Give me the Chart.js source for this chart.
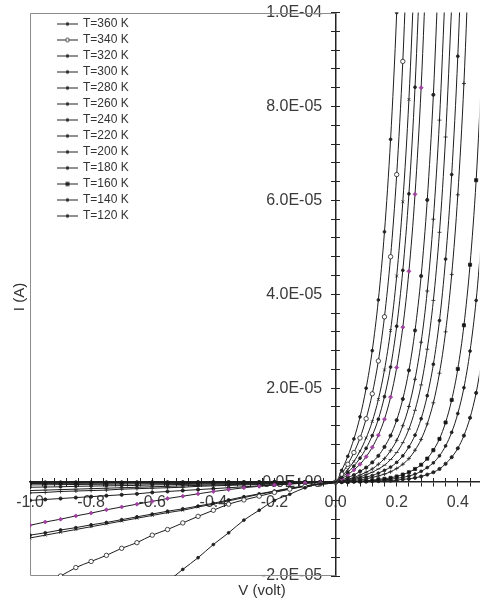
<!DOCTYPE html>
<html>
<head>
<meta charset="utf-8">
<script src="https://cdn.jsdelivr.net/npm/chart.js@4.4.1/dist/chart.umd.min.js"></script>
<style>
  html, body { margin: 0; padding: 0; background: #fff; }
  canvas { display: block; }
</style>
</head>
<body>
<canvas id="ivChart" width="484" height="603"></canvas>
<script>
// temperatures, top to bottom in the legend
const temps = ['T=360 K', 'T=340 K', 'T=320 K', 'T=300 K', 'T=280 K', 'T=260 K', 'T=240 K',
               'T=220 K', 'T=200 K', 'T=180 K', 'T=160 K', 'T=140 K', 'T=120 K'];

// voltage steps (V): reverse side then forward side
const vRev = [-1.0, -0.95, -0.9, -0.85, -0.8, -0.75, -0.7, -0.65, -0.6, -0.55,
              -0.5, -0.45, -0.4, -0.35, -0.3, -0.25, -0.2, -0.15, -0.1, -0.05];
const vFwd = [0, 0.02, 0.04, 0.06, 0.08, 0.1, 0.12, 0.14, 0.16, 0.18, 0.2, 0.22, 0.24,
              0.26, 0.28, 0.3, 0.32, 0.34, 0.36, 0.38, 0.4, 0.42, 0.44, 0.46, 0.48];

// current in microampere, same order as vRev then vFwd
const I360 = [null, null, null, null, null, null, null, null, -23.8, -21.2,
              -18.6, -16.1, -13.3, -10.8, -8.1, -6.0, -3.9, -2.6, -1.2, -0.4,
              0, 2.5, 5.5, 9.2, 13.9, 20.0, 28.0, 38.8, 53.3, 73.0, 100, 137];
const I340 = [-22.6, -21.3, -20.0, -18.2, -16.9, -15.6, -14.1, -12.9, -11.3, -10.1,
              -8.7, -7.3, -6.0, -4.7, -3.8, -3.0, -2.2, -1.5, -0.9, -0.4,
              0, 1.7, 3.8, 6.3, 9.4, 13.5, 18.8, 25.8, 35.2, 48.0, 65.5, 89.6, 122.8];
const I320 = [-11.9, -11.3, -10.7, -10.1, -9.5, -8.9, -8.3, -7.7, -7.1, -6.5,
              -6.0, -5.3, -4.7, -4.0, -3.3, -2.6, -2.0, -1.4, -0.9, -0.4,
              0, 1.2, 2.7, 4.4, 6.6, 9.4, 12.9, 17.6, 23.9, 32.3, 43.9, 59.7, 81.5, 111.7];
const I300 = [-11.3, -10.8, -10.2, -9.7, -9.1, -8.6, -8.0, -7.4, -6.8, -6.2,
              -5.7, -5.1, -4.5, -3.8, -3.1, -2.5, -1.9, -1.3, -0.8, -0.4,
              0, 1.0, 2.1, 3.4, 5.1, 7.2, 9.9, 13.4, 18.2, 24.5, 33.2, 45.1, 61.4, 84.1, 115.3];
const I280 = [-9.2, -8.5, -7.9, -7.2, -6.6, -5.9, -5.3, -4.7, -4.1, -3.5,
              -3.0, -2.5, -2.0, -1.6, -1.2, -0.9, -0.6, -0.4, -0.2, -0.1,
              0, 0.7, 1.6, 2.6, 3.8, 5.4, 7.4, 10.0, 13.4, 18.1, 24.4, 33.0, 44.9, 61.3, 84.0, 115.5];
const I260 = [-3.9, -3.7, -3.5, -3.3, -3.1, -2.9, -2.7, -2.5, -2.2, -2.0,
              -1.8, -1.6, -1.4, -1.2, -1.0, -0.8, -0.6, -0.4, -0.2, -0.1,
              0, 0.4, 1.0, 1.5, 2.3, 3.1, 4.2, 5.6, 7.5, 9.9, 13.2, 17.7, 23.8, 32.3, 43.9, 60.1, 82.5, 113.7];
const I240 = [-2.3, -2.2, -2.0, -1.9, -1.8, -1.7, -1.5, -1.4, -1.3, -1.2,
              -1.1, -0.9, -0.8, -0.7, -0.6, -0.5, -0.4, -0.3, -0.2, -0.1,
              0, 0.3, 0.6, 1.0, 1.5, 2.1, 2.8, 3.8, 5.0, 6.7, 8.9, 12.0, 16.1, 21.9, 29.8, 40.7, 56.0, 77.1, 106.6];
const I220 = [-1.8, -1.7, -1.6, -1.5, -1.4, -1.3, -1.2, -1.1, -1.0, -0.9,
              -0.8, -0.7, -0.6, -0.55, -0.45, -0.4, -0.3, -0.2, -0.15, -0.05,
              0, 0.2, 0.5, 0.8, 1.1, 1.6, 2.1, 2.8, 3.6, 4.8, 6.3, 8.4, 11.3, 15.3, 20.7, 28.3, 38.7, 53.2, 73.5, 101.6];
const I200 = [-1.1, -1.05, -1.0, -0.9, -0.85, -0.8, -0.75, -0.7, -0.6, -0.55,
              -0.5, -0.45, -0.4, -0.35, -0.3, -0.25, -0.2, -0.15, -0.1, -0.05,
              0, 0.2, 0.3, 0.6, 0.8, 1.1, 1.4, 1.9, 2.5, 3.2, 4.2, 5.6, 7.5, 10.0, 13.5, 18.4, 25.1, 34.4, 47.5, 65.5, 90.7, 125.8];
const I180 = [-0.6, -0.57, -0.54, -0.51, -0.48, -0.45, -0.42, -0.39, -0.36, -0.33,
              -0.3, -0.27, -0.24, -0.21, -0.18, -0.15, -0.12, -0.09, -0.06, -0.03,
              0, 0.1, 0.2, 0.4, 0.5, 0.7, 1.0, 1.3, 1.7, 2.2, 2.9, 3.8, 5.0, 6.8, 9.1, 12.4, 16.9, 23.2, 32.0, 44.2, 61.2, 84.9, 117.9];
const I160 = [-0.3, -0.29, -0.27, -0.26, -0.24, -0.23, -0.21, -0.2, -0.18, -0.17,
              -0.15, -0.14, -0.12, -0.11, -0.09, -0.08, -0.06, -0.05, -0.03, -0.02,
              0, 0.1, 0.1, 0.2, 0.2, 0.3, 0.4, 0.6, 0.7, 0.9, 1.2, 1.6, 2.1, 2.8, 3.7, 5.0, 6.8, 9.2, 12.7, 17.5, 24.1, 33.4, 46.3, 64.3, 89.5];
const I140 = [-0.15, -0.14, -0.13, -0.12, -0.12, -0.11, -0.1, -0.1, -0.09, -0.08,
              -0.07, -0.07, -0.06, -0.05, -0.04, -0.04, -0.03, -0.02, -0.02, -0.01,
              0, 0.0, 0.1, 0.1, 0.2, 0.2, 0.3, 0.4, 0.5, 0.6, 0.8, 1.0, 1.3, 1.7, 2.3, 3.1, 4.1, 5.6, 7.7, 10.6, 14.6, 20.1, 27.9, 38.7, 53.7];
const I120 = [-0.05, -0.05, -0.05, -0.04, -0.04, -0.04, -0.04, -0.03, -0.03, -0.03,
              -0.03, -0.02, -0.02, -0.02, -0.02, -0.01, -0.01, -0.01, -0.01, 0,
              0, 0.0, 0.0, 0.1, 0.1, 0.1, 0.2, 0.2, 0.3, 0.3, 0.4, 0.6, 0.7, 0.9, 1.2, 1.6, 2.1, 2.8, 3.9, 5.3, 7.2, 9.9, 13.7, 19.0, 26.4];

const curves = [I360, I340, I320, I300, I280, I260, I240, I220, I200, I180, I160, I140, I120];

// axis ranges (V, microampere)
const vMin = -1.0, vMax = 0.47, vStep = 0.04;
const iMin = -20, iMax = 100, iStep = 4;

// marker look per curve
const marks = [
  {shape: 'circle', r: 1.4, fill: '#222'},
  {shape: 'circle', r: 2.2, fill: '#fff'},
  {shape: 'crossRot', r: 2, fill: '#222'},
  {shape: 'circle', r: 1.4, fill: '#222'},
  {shape: 'rectRot', r: 2, fill: '#a040a0'},
  {shape: 'circle', r: 1.6, fill: '#222'},
  {shape: 'cross', r: 2, fill: '#222'},
  {shape: 'line', r: 2, fill: '#222'},
  {shape: 'circle', r: 1.4, fill: '#222'},
  {shape: 'cross', r: 2, fill: '#222'},
  {shape: 'rect', r: 2.2, fill: '#111'},
  {shape: 'circle', r: 1.4, fill: '#222'},
  {shape: 'circle', r: 1.6, fill: '#222'}
];

Chart.defaults.font.family = "'Liberation Sans', Arial, sans-serif";

const voltages = vRev.concat(vFwd);

const sci = (v) => {
  const a = v * 1e-6;
  if (Math.abs(a) < 1e-12) return '0.0E+00';
  const e = Math.floor(Math.log10(Math.abs(a)) + 1e-9);
  const m = a / Math.pow(10, e);
  return m.toFixed(1) + 'E' + (e < 0 ? '-' : '+') + String(Math.abs(e)).padStart(2, '0');
};

// small legend icon: line with the marker in the middle
const makeIcon = (mk) => {
  const c = document.createElement('canvas');
  c.width = 21; c.height = 7;
  const g = c.getContext('2d');
  g.strokeStyle = '#222';
  g.lineWidth = 1;
  g.beginPath(); g.moveTo(0, 3.5); g.lineTo(21, 3.5); g.stroke();
  g.fillStyle = mk.fill === '#fff' ? '#fff' : '#222';
  if (mk.shape === 'rect') {
    g.fillRect(8.5, 1.5, 4, 4);
  } else {
    g.beginPath(); g.arc(10.5, 3.5, mk.r > 2 ? 1.8 : 1.3, 0, Math.PI * 2);
    g.fill(); g.stroke();
  }
  return c;
};
const icons = marks.map(makeIcon);

const datasets = temps.map((t, i) => ({
  label: t,
  data: voltages.map((v, j) => ({x: v, y: curves[i][j]}))
                .filter(p => p.y !== null && p.y !== undefined),
  borderColor: '#1e1e1e',
  borderWidth: 1,
  pointStyle: marks[i].shape,
  pointRadius: marks[i].r,
  pointBackgroundColor: marks[i].fill,
  pointBorderColor: marks[i].fill === '#a040a0' ? '#a040a0' : '#1e1e1e',
  pointBorderWidth: 0.8,
  cubicInterpolationMode: 'monotone'
}));

const xTickCb = (v) => {
  const k = Math.round(v * 100);
  return k % 20 === 0 ? (k / 100).toFixed(1) : '';
};
// trailing spaces keep the labels clear of the centred axis
const yTickCb = (v) => (Math.round(v) % 20 === 0 ? sci(v) + '   ' : '');

const xBase = {
  type: 'linear', min: vMin, max: vMax, position: {y: 0},
  afterFit: (s) => { s.height = 0; }
};
const yBase = {
  type: 'linear', min: iMin, max: iMax, position: {x: 0},
  afterFit: (s) => { s.width = 0; }
};

// grey box on the reverse side, legend spot, axis names
const frame = {
  id: 'frame',
  beforeDatasetsDraw(chart) {
    const {ctx, chartArea, scales: {x}} = chart;
    const l = Math.round(x.getPixelForValue(vMin)) + 0.5;
    const r = x.getPixelForValue(0);
    const t = Math.round(chartArea.top) + 0.5;
    const b = Math.round(chartArea.bottom) - 0.5;
    ctx.save();
    ctx.strokeStyle = '#8c8c8c';
    ctx.lineWidth = 1;
    ctx.beginPath();
    ctx.moveTo(r, t); ctx.lineTo(l, t); ctx.lineTo(l, b); ctx.lineTo(r, b);
    ctx.stroke();
    ctx.restore();
  },
  afterLayout(chart) {
    chart.legend.left = 54;
    chart.legend.top = 14;
  },
  afterDraw(chart) {
    const {ctx} = chart;
    ctx.save();
    ctx.fillStyle = '#333';
    ctx.font = "15px 'Liberation Sans', Arial, sans-serif";
    ctx.textAlign = 'center';
    ctx.textBaseline = 'middle';
    ctx.fillText('V (volt)', 262, 591);
    ctx.translate(20, 297);
    ctx.rotate(-Math.PI / 2);
    ctx.fillText('I (A)', 0, 0);
    ctx.restore();
  }
};

new Chart(document.getElementById('ivChart'), {
  type: 'line',
  data: {datasets},
  plugins: [frame],
  options: {
    responsive: false,
    animation: false,
    devicePixelRatio: 1,
    layout: {padding: {left: 30, top: 12, right: 0, bottom: 27}},
    plugins: {
      tooltip: {enabled: false},
      legend: {
        position: 'chartArea',
        align: 'start',
        labels: {
          usePointStyle: true,
          pointStyleWidth: 19,
          padding: 4,
          color: '#333',
          font: {size: 12},
          generateLabels: (chart) =>
            Chart.defaults.plugins.legend.labels.generateLabels(chart)
              .map((it, i) => ({...it, pointStyle: icons[i]}))
        }
      }
    },
    scales: {
      x: {
        ...xBase,
        ticks: {stepSize: vStep, includeBounds: false, autoSkip: false, maxRotation: 0,
                callback: xTickCb, color: '#3a3a3a', font: {size: 16}, padding: 7},
        grid: {drawOnChartArea: false, tickLength: 4, color: '#222', lineWidth: 1},
        border: {color: '#222', width: 1.5}
      },
      x2: {
        ...xBase,
        ticks: {stepSize: vStep, includeBounds: false, autoSkip: false, display: false},
        grid: {drawOnChartArea: false, tickLength: -4, color: '#222', lineWidth: 1},
        border: {display: false}
      },
      y: {
        ...yBase,
        ticks: {stepSize: iStep, includeBounds: false, autoSkip: false,
                callback: yTickCb, color: '#3a3a3a', font: {size: 16}},
        grid: {drawOnChartArea: false, tickLength: 4, color: '#222', lineWidth: 1},
        border: {color: '#222', width: 1.5}
      },
      y2: {
        ...yBase,
        ticks: {stepSize: iStep, includeBounds: false, autoSkip: false, display: false},
        grid: {drawOnChartArea: false, tickLength: -4, color: '#222', lineWidth: 1},
        border: {display: false}
      }
    }
  }
});
</script>
</body>
</html>
